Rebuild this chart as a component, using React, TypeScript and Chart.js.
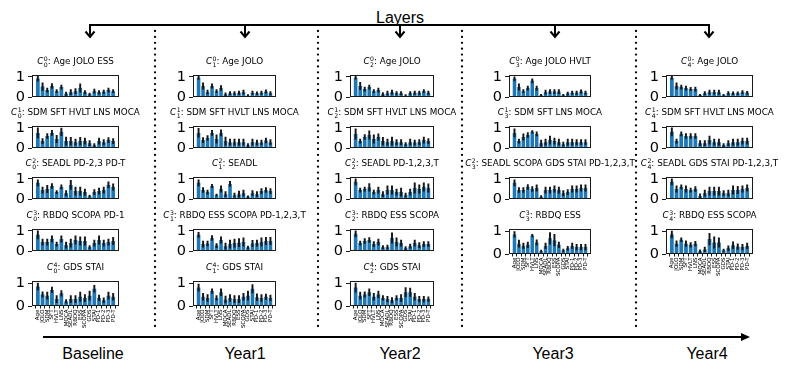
import React, { useEffect, useRef } from "react";
import { Chart, registerables } from "chart.js";
Chart.register(...registerables);

// ---------- data ----------
const FEATURES = ["Age", "JOLO", "SDM", "SFT", "HVLT", "LNS", "MOCA", "SEADL", "RBDQ", "ESS", "SCOPA", "GDS", "STAI", "PD-1", "PD-2", "PD-3", "PD-T"];
const Y_TICKS = [0, 1];
const LAYER_NAMES = ["Baseline", "Year1", "Year2", "Year3", "Year4"];

// Baseline
const B0 = [0.92, 0.52, 0.35, 0.55, 0.3, 0.5, 0.17, 0.25, 0.3, 0.45, 0.25, 0.15, 0.3, 0.25, 0.27, 0.35, 0.3];
const B0E = [0.13, 0.18, 0.1, 0.12, 0.08, 0.1, 0.08, 0.12, 0.12, 0.2, 0.08, 0.06, 0.1, 0.08, 0.08, 0.1, 0.08];
const B1 = [0.75, 0.35, 0.6, 0.75, 0.45, 0.8, 0.35, 0.35, 0.3, 0.35, 0.35, 0.25, 0.15, 0.35, 0.3, 0.4, 0.35];
const B1E = [0.25, 0.12, 0.12, 0.12, 0.18, 0.18, 0.2, 0.18, 0.15, 0.18, 0.15, 0.12, 0.08, 0.15, 0.12, 0.12, 0.12];
const B2 = [0.8, 0.45, 0.5, 0.65, 0.35, 0.6, 0.3, 0.7, 0.4, 0.4, 0.35, 0.15, 0.35, 0.4, 0.45, 0.7, 0.6];
const B2E = [0.15, 0.15, 0.18, 0.12, 0.08, 0.1, 0.12, 0.22, 0.2, 0.2, 0.15, 0.05, 0.12, 0.15, 0.15, 0.15, 0.15];
const B3 = [0.8, 0.45, 0.45, 0.6, 0.35, 0.6, 0.3, 0.4, 0.55, 0.5, 0.5, 0.2, 0.4, 0.55, 0.4, 0.45, 0.5];
const B3E = [0.2, 0.15, 0.15, 0.15, 0.1, 0.15, 0.15, 0.2, 0.2, 0.2, 0.2, 0.08, 0.15, 0.2, 0.15, 0.15, 0.18];
const B4 = [0.85, 0.5, 0.45, 0.7, 0.3, 0.55, 0.2, 0.3, 0.3, 0.4, 0.35, 0.45, 0.75, 0.35, 0.25, 0.45, 0.4];
const B4E = [0.15, 0.12, 0.15, 0.12, 0.15, 0.12, 0.08, 0.15, 0.15, 0.2, 0.15, 0.2, 0.15, 0.12, 0.1, 0.15, 0.15];

// Year1
const Y1_0 = [0.95, 0.55, 0.25, 0.55, 0.3, 0.45, 0.15, 0.2, 0.2, 0.22, 0.25, 0.08, 0.22, 0.2, 0.22, 0.28, 0.2];
const Y1_0E = [0.08, 0.15, 0.1, 0.1, 0.08, 0.12, 0.07, 0.08, 0.08, 0.08, 0.1, 0.05, 0.08, 0.07, 0.08, 0.08, 0.08];
const Y1_1 = [0.75, 0.4, 0.5, 0.75, 0.45, 0.75, 0.35, 0.3, 0.3, 0.3, 0.3, 0.15, 0.3, 0.28, 0.28, 0.38, 0.3];
const Y1_1E = [0.22, 0.12, 0.12, 0.12, 0.2, 0.15, 0.2, 0.15, 0.15, 0.15, 0.15, 0.08, 0.15, 0.12, 0.12, 0.12, 0.12];
const Y1_2 = [0.8, 0.45, 0.35, 0.65, 0.2, 0.5, 0.25, 0.75, 0.2, 0.25, 0.3, 0.12, 0.3, 0.25, 0.4, 0.45, 0.4];
const Y1_2E = [0.15, 0.12, 0.1, 0.08, 0.05, 0.15, 0.12, 0.12, 0.1, 0.15, 0.15, 0.05, 0.12, 0.12, 0.12, 0.12, 0.12];
const Y1_3 = [0.8, 0.35, 0.38, 0.65, 0.28, 0.55, 0.25, 0.35, 0.4, 0.42, 0.45, 0.18, 0.38, 0.4, 0.45, 0.5, 0.5];
const Y1_3E = [0.12, 0.15, 0.12, 0.12, 0.1, 0.15, 0.15, 0.2, 0.2, 0.2, 0.2, 0.08, 0.15, 0.15, 0.2, 0.18, 0.18];
const Y1_4 = [0.8, 0.4, 0.35, 0.65, 0.35, 0.6, 0.28, 0.35, 0.3, 0.3, 0.4, 0.45, 0.75, 0.38, 0.35, 0.4, 0.35];
const Y1_4E = [0.15, 0.15, 0.15, 0.1, 0.1, 0.15, 0.15, 0.15, 0.15, 0.15, 0.15, 0.2, 0.18, 0.15, 0.15, 0.12, 0.12];

// Year2
const Y2_0 = [0.95, 0.55, 0.4, 0.5, 0.3, 0.35, 0.15, 0.2, 0.25, 0.2, 0.2, 0.08, 0.2, 0.22, 0.22, 0.3, 0.22];
const Y2_0E = [0.07, 0.18, 0.1, 0.1, 0.07, 0.1, 0.08, 0.1, 0.1, 0.08, 0.08, 0.05, 0.08, 0.08, 0.08, 0.08, 0.08];
const Y2_1 = [0.7, 0.35, 0.55, 0.65, 0.45, 0.55, 0.35, 0.3, 0.35, 0.3, 0.3, 0.2, 0.3, 0.28, 0.3, 0.4, 0.35];
const Y2_1E = [0.25, 0.1, 0.12, 0.2, 0.2, 0.15, 0.18, 0.15, 0.2, 0.12, 0.12, 0.08, 0.15, 0.12, 0.12, 0.15, 0.12];
const Y2_2 = [0.85, 0.45, 0.5, 0.58, 0.35, 0.45, 0.25, 0.45, 0.45, 0.35, 0.35, 0.2, 0.35, 0.55, 0.5, 0.6, 0.55];
const Y2_2E = [0.15, 0.1, 0.1, 0.18, 0.1, 0.15, 0.12, 0.2, 0.2, 0.15, 0.2, 0.1, 0.15, 0.25, 0.2, 0.2, 0.2];
const Y2_3 = [0.85, 0.4, 0.5, 0.55, 0.35, 0.45, 0.2, 0.2, 0.65, 0.45, 0.4, 0.15, 0.25, 0.4, 0.3, 0.35, 0.35];
const Y2_3E = [0.15, 0.1, 0.12, 0.12, 0.12, 0.15, 0.08, 0.1, 0.25, 0.2, 0.15, 0.08, 0.1, 0.15, 0.12, 0.12, 0.12];
const Y2_4 = [0.8, 0.45, 0.5, 0.6, 0.4, 0.5, 0.35, 0.3, 0.25, 0.35, 0.35, 0.6, 0.6, 0.4, 0.3, 0.3, 0.3];
const Y2_4E = [0.2, 0.15, 0.12, 0.15, 0.15, 0.15, 0.1, 0.12, 0.12, 0.1, 0.15, 0.2, 0.18, 0.15, 0.12, 0.12, 0.1];

// Year3
const Y3_0 = [0.9, 0.5, 0.3, 0.45, 0.8, 0.45, 0.1, 0.25, 0.28, 0.28, 0.28, 0.1, 0.18, 0.22, 0.22, 0.28, 0.22];
const Y3_0E = [0.1, 0.15, 0.08, 0.1, 0.1, 0.1, 0.05, 0.1, 0.1, 0.1, 0.1, 0.05, 0.08, 0.08, 0.08, 0.08, 0.08];
const Y3_1 = [0.75, 0.35, 0.55, 0.65, 0.8, 0.7, 0.25, 0.3, 0.4, 0.35, 0.3, 0.2, 0.3, 0.3, 0.3, 0.3, 0.3];
const Y3_1E = [0.2, 0.1, 0.15, 0.12, 0.06, 0.1, 0.15, 0.15, 0.2, 0.15, 0.15, 0.1, 0.15, 0.15, 0.12, 0.12, 0.12];
const Y3_2 = [0.8, 0.45, 0.45, 0.6, 0.5, 0.55, 0.12, 0.45, 0.45, 0.5, 0.45, 0.3, 0.35, 0.5, 0.5, 0.55, 0.55];
const Y3_2E = [0.15, 0.12, 0.12, 0.12, 0.12, 0.15, 0.06, 0.15, 0.15, 0.15, 0.15, 0.12, 0.12, 0.15, 0.15, 0.15, 0.15];
const Y3_3 = [0.85, 0.45, 0.35, 0.4, 0.8, 0.5, 0.12, 0.35, 0.68, 0.6, 0.4, 0.15, 0.25, 0.35, 0.3, 0.3, 0.3];
const Y3_3E = [0.12, 0.15, 0.12, 0.12, 0.06, 0.12, 0.05, 0.12, 0.25, 0.25, 0.12, 0.06, 0.08, 0.12, 0.12, 0.12, 0.12];

// Year4
const Y4_0 = [0.95, 0.55, 0.5, 0.45, 0.4, 0.4, 0.1, 0.2, 0.25, 0.25, 0.25, 0.1, 0.2, 0.2, 0.2, 0.25, 0.22];
const Y4_0E = [0.07, 0.15, 0.1, 0.1, 0.08, 0.1, 0.05, 0.08, 0.1, 0.1, 0.1, 0.05, 0.08, 0.07, 0.07, 0.08, 0.07];
const Y4_1 = [0.8, 0.35, 0.7, 0.6, 0.6, 0.6, 0.25, 0.25, 0.4, 0.3, 0.3, 0.15, 0.25, 0.3, 0.3, 0.35, 0.35];
const Y4_1E = [0.2, 0.1, 0.1, 0.12, 0.12, 0.12, 0.12, 0.12, 0.2, 0.15, 0.15, 0.08, 0.12, 0.15, 0.15, 0.15, 0.15];
const Y4_2 = [0.85, 0.5, 0.6, 0.5, 0.45, 0.5, 0.15, 0.3, 0.4, 0.4, 0.4, 0.3, 0.3, 0.45, 0.45, 0.5, 0.55];
const Y4_2E = [0.15, 0.15, 0.1, 0.15, 0.1, 0.12, 0.12, 0.15, 0.2, 0.2, 0.2, 0.12, 0.15, 0.2, 0.18, 0.15, 0.15];
const Y4_3 = [0.85, 0.45, 0.62, 0.45, 0.4, 0.45, 0.12, 0.2, 0.65, 0.5, 0.5, 0.15, 0.25, 0.38, 0.32, 0.3, 0.35];
const Y4_3E = [0.15, 0.12, 0.08, 0.12, 0.1, 0.1, 0.06, 0.1, 0.25, 0.25, 0.2, 0.06, 0.1, 0.15, 0.12, 0.12, 0.12];

const TITLES = [
  ["Age JOLO ESS", "SDM SFT HVLT LNS MOCA", "SEADL PD-2,3 PD-T", "RBDQ SCOPA PD-1", "GDS STAI"],
  ["Age JOLO", "SDM SFT HVLT LNS MOCA", "SEADL", "RBDQ ESS SCOPA PD-1,2,3,T", "GDS STAI"],
  ["Age JOLO", "SDM SFT HVLT LNS MOCA", "SEADL PD-1,2,3,T", "RBDQ ESS SCOPA", "GDS STAI"],
  ["Age JOLO HVLT", "SDM SFT LNS MOCA", "SEADL SCOPA GDS STAI PD-1,2,3,T", "RBDQ ESS"],
  ["Age JOLO", "SDM SFT HVLT LNS MOCA", "SEADL GDS STAI PD-1,2,3,T", "RBDQ ESS SCOPA"],
];
const MEANS = [
  [B0, B1, B2, B3, B4],
  [Y1_0, Y1_1, Y1_2, Y1_3, Y1_4],
  [Y2_0, Y2_1, Y2_2, Y2_3, Y2_4],
  [Y3_0, Y3_1, Y3_2, Y3_3],
  [Y4_0, Y4_1, Y4_2, Y4_3],
];
const ERRS = [
  [B0E, B1E, B2E, B3E, B4E],
  [Y1_0E, Y1_1E, Y1_2E, Y1_3E, Y1_4E],
  [Y2_0E, Y2_1E, Y2_2E, Y2_3E, Y2_4E],
  [Y3_0E, Y3_1E, Y3_2E, Y3_3E],
  [Y4_0E, Y4_1E, Y4_2E, Y4_3E],
];

// ---------- layout ----------
const COL_LEFT = [32, 193, 350, 509, 666];
const COL_W = [87, 83, 84, 82, 87];
const ROW_TOP = [72, 123, 174, 226, 278];
const BOX_H = 28;
const Y_AXIS_W = 30;
const PAD = 9;
const LABEL_H = 34;
const ARROW_X = [90, 245, 400, 555, 709];
const DOT_X = [155, 318, 462, 636];
const LAYER_LABEL_X = [93, 245, 400, 553, 707];

const framePlugin = {
  id: "frame",
  afterDraw(chart: any) {
    const { ctx, chartArea } = chart;
    const l = Math.round(chartArea.left);
    const t = Math.round(chartArea.top);
    const r = Math.round(chartArea.right);
    const b = Math.round(chartArea.bottom);
    ctx.save();
    ctx.strokeStyle = "#1a1a1a";
    ctx.lineWidth = 1;
    ctx.strokeRect(l + 0.5, t + 0.5, r - l - 1, b - t - 1);
    ctx.restore();
  },
};

function Panel({ col, row, bottom }: { col: number; row: number; bottom: boolean }) {
  const ref = useRef<HTMLCanvasElement | null>(null);
  const boxL = COL_LEFT[col];
  const boxW = COL_W[col];
  const boxT = ROW_TOP[row];
  const xH = bottom ? LABEL_H : PAD;
  const cw = Y_AXIS_W + boxW + PAD;
  const ch = PAD + BOX_H + xH;

  useEffect(() => {
    const means = MEANS[col][row];
    const errs = ERRS[col][row];
    const chart = new Chart(ref.current as HTMLCanvasElement, {
      type: "bar",
      data: {
        datasets: [
          {
            data: means.map((m, i) => ({ x: i, y: [m - errs[i], m + errs[i]] })) as any,
            backgroundColor: "#161616",
            barThickness: 1.3,
            grouped: false,
            order: 0,
          } as any,
          {
            data: means.map((m, i) => ({ x: i, y: m })) as any,
            backgroundColor: "#1f77b4",
            barPercentage: 0.8,
            categoryPercentage: 1,
            grouped: false,
            order: 1,
          } as any,
        ],
      },
      options: {
        responsive: false,
        animation: false,
        events: [],
        layout: { padding: { top: PAD, right: PAD, left: 0, bottom: 0 } },
        plugins: { legend: { display: false }, tooltip: { enabled: false }, title: { display: false } },
        scales: {
          x: {
            type: "linear",
            min: -1.24,
            max: FEATURES.length - 1 + 1.24,
            offset: false,
            afterBuildTicks: (axis: any) => {
              axis.ticks = FEATURES.map((_, i) => ({ value: i }));
            },
            afterFit: (scale: any) => {
              scale.height = xH;
            },
            border: { display: false },
            grid: {
              display: bottom,
              drawOnChartArea: false,
              drawTicks: true,
              tickLength: 2.5,
              color: "#1a1a1a",
            },
            ticks: {
              display: bottom,
              autoSkip: false,
              minRotation: 90,
              maxRotation: 90,
              padding: 1,
              color: "#000",
              font: { family: "DejaVu Sans", size: 5.5 },
              callback: (v: any) => FEATURES[v as number] ?? "",
            },
          },
          y: {
            type: "linear",
            min: 0,
            max: 1.1,
            afterBuildTicks: (axis: any) => {
              axis.ticks = Y_TICKS.map((v) => ({ value: v }));
            },
            afterFit: (scale: any) => {
              scale.width = Y_AXIS_W;
            },
            border: { display: false },
            grid: {
              drawOnChartArea: false,
              drawTicks: true,
              tickLength: 4,
              color: "#1a1a1a",
            },
            ticks: {
              padding: 3,
              color: "#000",
              font: { family: "DejaVu Sans", size: 14.5 },
              callback: (v: any) => String(v),
            },
          },
        },
      },
      plugins: [framePlugin],
    });
    return () => chart.destroy();
  }, [col, row, bottom]);

  return (
    <canvas
      ref={ref}
      width={cw}
      height={ch}
      style={{ position: "absolute", left: boxL - Y_AXIS_W, top: boxT - PAD, width: cw, height: ch }}
    />
  );
}

function Title({ col, row }: { col: number; row: number }) {
  const boxL = COL_LEFT[col];
  const boxW = COL_W[col];
  const boxT = ROW_TOP[row];
  return (
    <div
      style={{
        position: "absolute",
        left: boxL + boxW / 2,
        top: boxT - 17,
        transform: "translateX(-50%)",
        whiteSpace: "nowrap",
        fontFamily: "DejaVu Sans",
        fontSize: 8.8,
        lineHeight: "12px",
        color: "#000",
      }}
    >
      <span style={{ fontStyle: "italic" }}>C</span>
      <span
        style={{
          display: "inline-flex",
          flexDirection: "column",
          verticalAlign: "middle",
          fontSize: 6.2,
          lineHeight: "6px",
          marginLeft: 0.5,
        }}
      >
        <span>{row}</span>
        <span>{col}</span>
      </span>
      : {TITLES[col][row]}
    </div>
  );
}

export default function App() {
  const panels: any[] = [];
  MEANS.forEach((colData, c) => {
    colData.forEach((_, r) => {
      const bottom = r === colData.length - 1;
      panels.push(<Panel key={`p${c}-${r}`} col={c} row={r} bottom={bottom} />);
      panels.push(<Title key={`t${c}-${r}`} col={c} row={r} />);
    });
  });

  return (
    <div style={{ position: "absolute", left: 0, top: 0, width: 789, height: 374, background: "#fff", overflow: "hidden" }}>
      <svg width={789} height={374} style={{ position: "absolute", left: 0, top: 0 }}>
        <text x={400} y={23} textAnchor="middle" fontFamily="Liberation Sans" fontSize={16} fill="#000">
          Layers
        </text>
        <line x1={ARROW_X[0] - 1} y1={25} x2={ARROW_X[ARROW_X.length - 1] + 1} y2={25} stroke="#000" strokeWidth={2} />
        {ARROW_X.map((x) => (
          <g key={x}>
            <line x1={x} y1={25} x2={x} y2={36.5} stroke="#000" strokeWidth={2} />
            <polyline points={`${x - 4.5},${31.5} ${x},${37} ${x + 4.5},${31.5}`} fill="none" stroke="#000" strokeWidth={2} />
          </g>
        ))}
        {DOT_X.map((x) => (
          <line
            key={x}
            x1={x}
            y1={31}
            x2={x}
            y2={330}
            stroke="#000"
            strokeWidth={2.3}
            strokeDasharray="0 5.9"
            strokeLinecap="round"
          />
        ))}
        <line x1={43} y1={337} x2={744} y2={337} stroke="#000" strokeWidth={2} />
        <polygon points="750,337 741,333 741,341" fill="#000" />
        {LAYER_NAMES.map((name, i) => (
          <text key={name} x={LAYER_LABEL_X[i]} y={359} textAnchor="middle" fontFamily="Liberation Sans" fontSize={16} fill="#000">
            {name}
          </text>
        ))}
      </svg>
      {panels}
    </div>
  );
}
